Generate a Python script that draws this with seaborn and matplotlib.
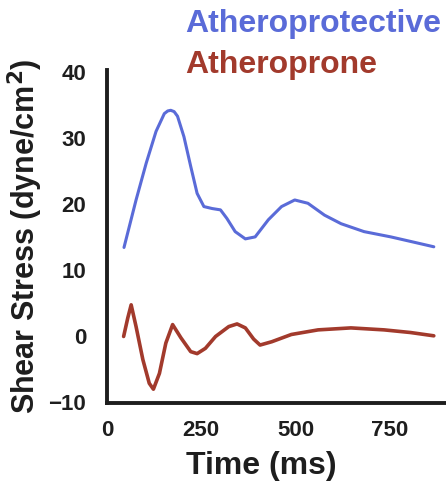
import matplotlib
matplotlib.use("Agg")
import matplotlib.pyplot as plt
import seaborn as sns
import pandas as pd

# Atheroprotective waveform (time ms, shear stress dyne/cm^2)
t_protective = [45, 77, 104, 130, 152, 161, 169, 178, 187, 204, 222, 239, 257, 279, 301, 318,
                340, 367, 393, 428, 463, 498, 533, 577, 621, 682, 753, 814, 867]
v_protective = [13.4, 20.6, 26.2, 31.0, 33.7, 34.1, 34.2, 34.0, 33.3, 30.2, 25.7, 21.6, 19.6, 19.3,
                19.1, 17.8, 15.8, 14.7, 15.0, 17.6, 19.6, 20.6, 20.1, 18.3, 17.0, 15.8,
                15.0, 14.2, 13.5]

# Atheroprone waveform
t_prone = [44, 55, 64, 77, 95, 112, 123, 139, 156, 174, 196, 222, 239, 261, 288, 323,
           345, 367, 389, 406, 437, 489, 560, 647, 735, 805, 867]
v_prone = [-0.1, 2.7, 4.7, 1.4, -3.6, -7.2, -8.1, -5.7, -1.1, 1.7, -0.3, -2.4, -2.7,
           -1.9, -0.1, 1.4, 1.8, 1.2, -0.5, -1.4, -0.9, 0.2, 0.9, 1.2, 0.9, 0.5, 0.0]

x_ticks = [0, 250, 500, 750]
y_ticks = [-10, 0, 10, 20, 30, 40]

blue = "#5a6bd8"
red = "#a23a2c"
ink = "#1e1e1e"

sns.set_theme(style="white")
plt.rcParams["font.family"] = ["Liberation Sans", "DejaVu Sans"]

fig = plt.figure(figsize=(4.46, 4.97), dpi=100)
ax = fig.add_axes([0.240, 0.189, 0.758, 0.670])

df_p = pd.DataFrame({"t": t_protective, "v": v_protective})
df_r = pd.DataFrame({"t": t_prone, "v": v_prone})
sns.lineplot(data=df_p, x="t", y="v", ax=ax, color=blue, linewidth=2.2)
sns.lineplot(data=df_r, x="t", y="v", ax=ax, color=red, linewidth=2.6)

ax.set_xlim(8, 897)
ax.set_ylim(-10.2, 40.3)
ax.set_xticks(x_ticks)
ax.set_yticks(y_ticks)
ax.tick_params(axis="both", length=0, labelsize=16, colors=ink)
ax.tick_params(axis="y", pad=15)
ax.tick_params(axis="x", pad=12)
for lab in ax.get_xticklabels() + ax.get_yticklabels():
    lab.set_fontweight("bold")

for s in ["top", "right"]:
    ax.spines[s].set_visible(False)
for s in ["left", "bottom"]:
    ax.spines[s].set_linewidth(2.8)
    ax.spines[s].set_color(ink)

ax.set_xlabel("Time (ms)", fontsize=23, fontweight="bold", color=ink, va="center")
ax.xaxis.set_label_coords(0.457, -0.189)
ax.set_ylabel("Shear Stress (dyne/cm$^\\mathbf{2}$)", fontsize=22, fontweight="bold",
              color=ink, va="center")
ax.yaxis.set_label_coords(-0.243, 0.5)

fig.text(0.415, 0.951, "Atheroprotective", color=blue, fontsize=23, fontweight="bold",
         ha="left", va="center")
fig.text(0.415, 0.869, "Atheroprone", color=red, fontsize=23, fontweight="bold",
         ha="left", va="center")

fig.savefig("out.png", dpi=100)
